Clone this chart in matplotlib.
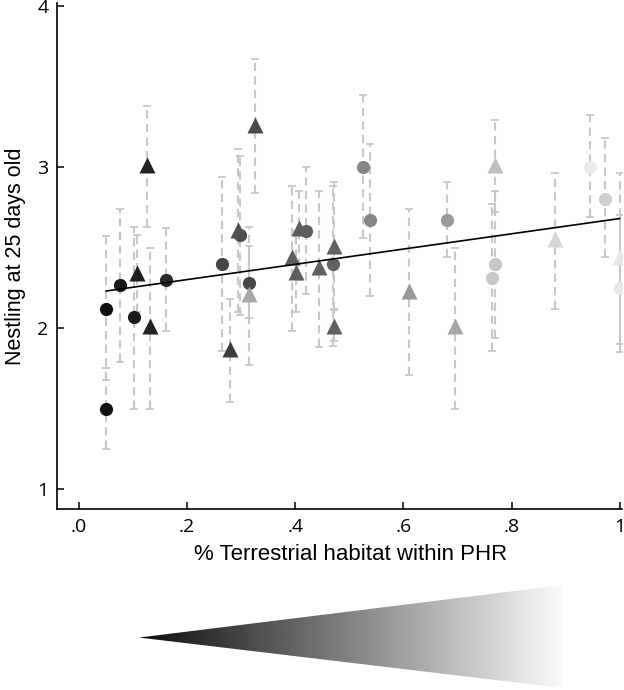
import numpy as np
import matplotlib
matplotlib.use("Agg")
import matplotlib.pyplot as plt
from matplotlib.patches import Polygon

# nests: % terrestrial habitat, nestlings at 25 days, CI low / high, marker, grey shade
terr = [0.050, 0.050, 0.075, 0.102, 0.107, 0.131, 0.125, 0.161,
        0.264, 0.280, 0.294, 0.298, 0.315, 0.314, 0.325,
        0.394, 0.402, 0.406, 0.420, 0.444, 0.471, 0.469, 0.471,
        0.525, 0.539, 0.610, 0.681, 0.696, 0.770, 0.770, 0.764,
        0.881, 0.946, 0.973, 1.000, 1.000]
nestling = [2.12, 1.50, 2.27, 2.07, 2.34, 2.01, 3.01, 2.30,
            2.40, 1.87, 2.61, 2.58, 2.28, 2.21, 3.26,
            2.44, 2.35, 2.62, 2.60, 2.38, 2.51, 2.40, 2.01,
            3.00, 2.67, 2.23, 2.67, 2.01, 3.01, 2.40, 2.31,
            2.55, 3.00, 2.80, 2.25, 2.44]
ci_low = [1.68, 1.25, 1.79, 1.50, 2.10, 1.50, 2.63, 1.98,
          1.86, 1.54, 2.10, 2.08, 1.77, 2.06, 2.84,
          1.98, 2.10, 2.30, 2.21, 1.88, 2.11, 1.89, 1.92,
          2.56, 2.20, 1.71, 2.44, 1.50, 2.72, 1.94, 1.86,
          2.12, 2.69, 2.44, 1.85, 1.90]
ci_high = [2.57, 1.75, 2.74, 2.63, 2.58, 2.50, 3.38, 2.62,
           2.94, 2.18, 3.11, 3.07, 2.63, 2.51, 3.67,
           2.88, 2.60, 2.85, 3.00, 2.85, 2.91, 2.88, 2.12,
           3.45, 3.14, 2.74, 2.91, 2.50, 3.29, 2.85, 2.77,
           2.96, 3.32, 3.18, 2.96, 2.70]
marker = ["o", "o", "o", "o", "^", "^", "^", "o",
          "o", "^", "^", "o", "o", "^", "^",
          "^", "^", "^", "o", "^", "^", "o", "^",
          "o", "o", "^", "o", "^", "^", "o", "o",
          "^", "o", "o", "o", "^"]
shade = [0.07, 0.07, 0.10, 0.10, 0.12, 0.13, 0.13, 0.16,
         0.27, 0.23, 0.31, 0.31, 0.27, 0.66, 0.29,
         0.37, 0.37, 0.37, 0.37, 0.38, 0.38, 0.38, 0.38,
         0.52, 0.53, 0.60, 0.60, 0.65, 0.75, 0.78, 0.78,
         0.84, 0.92, 0.81, 0.90, 0.90]

fit_x = [0.05, 1.0]
fit_y = [2.23, 2.68]

xticks = [0, 0.2, 0.4, 0.6, 0.8, 1.0]
xtick_labels = [".0", ".2", ".4", ".6", ".8", "1"]
yticks = [1, 2, 3, 4]

fig = plt.figure(figsize=(6.24, 6.90), dpi=100)
ax = fig.add_axes([0.0913, 0.262, 0.906, 0.734])

# error bars first (dashed light grey)
for i in range(len(terr)):
    y = nestling[i]
    eb = ax.errorbar(terr[i], y, yerr=[[y - ci_low[i]], [ci_high[i] - y]],
                     fmt="none", ecolor="#c8c8c8", elinewidth=1.5,
                     capsize=3, capthick=1.3, zorder=1)
    eb[2][0].set_linestyle((0, (4, 2.5)))

for i in range(len(terr)):
    g = shade[i]
    ms = 9.5 if marker[i] == "o" else 11
    ax.plot(terr[i], nestling[i], marker=marker[i], ms=ms, color=(g, g, g),
            mec="none", linestyle="none", zorder=3)

ax.plot(fit_x, fit_y, color="black", lw=1.2, zorder=4)

ax.set_xlim(-0.041, 1.005)
ax.set_ylim(0.875, 4.02)
ax.set_xticks(xticks)
ax.set_xticklabels(xtick_labels)
ax.set_yticks(yticks)
ax.tick_params(direction="in", length=5, width=1.1, labelsize=14, pad=6)
for lab in ax.get_xticklabels() + ax.get_yticklabels():
    lab.set_family("Open Sans")
ax.spines["top"].set_visible(False)
ax.spines["right"].set_visible(False)
ax.spines["left"].set_linewidth(1.2)
ax.spines["bottom"].set_linewidth(1.2)
ax.set_xlabel("% Terrestrial habitat within PHR", family="Liberation Sans",
              fontsize=16, labelpad=6)
ax.xaxis.set_label_coords(0.52, -0.068)
ax.set_ylabel("Nestling at 25 days old", family="Liberation Sans",
              fontsize=15.5, labelpad=8)

# grey wedge under the axis
ax2 = fig.add_axes([0.2228, 0.003, 0.678, 0.149])
ax2.set_xlim(0, 1)
ax2.set_ylim(0, 1)
ax2.axis("off")
grad = np.linspace(0.05, 0.98, 256).reshape(1, -1)
im = ax2.imshow(grad, cmap="gray", vmin=0, vmax=1, aspect="auto",
                extent=[0, 1, 0, 1])
wedge = Polygon([(0, 0.49), (1, 1), (1, 0)], closed=True,
                transform=ax2.transData, facecolor="none", edgecolor="none")
ax2.add_patch(wedge)
im.set_clip_path(wedge)

fig.savefig("out.png", dpi=100)
